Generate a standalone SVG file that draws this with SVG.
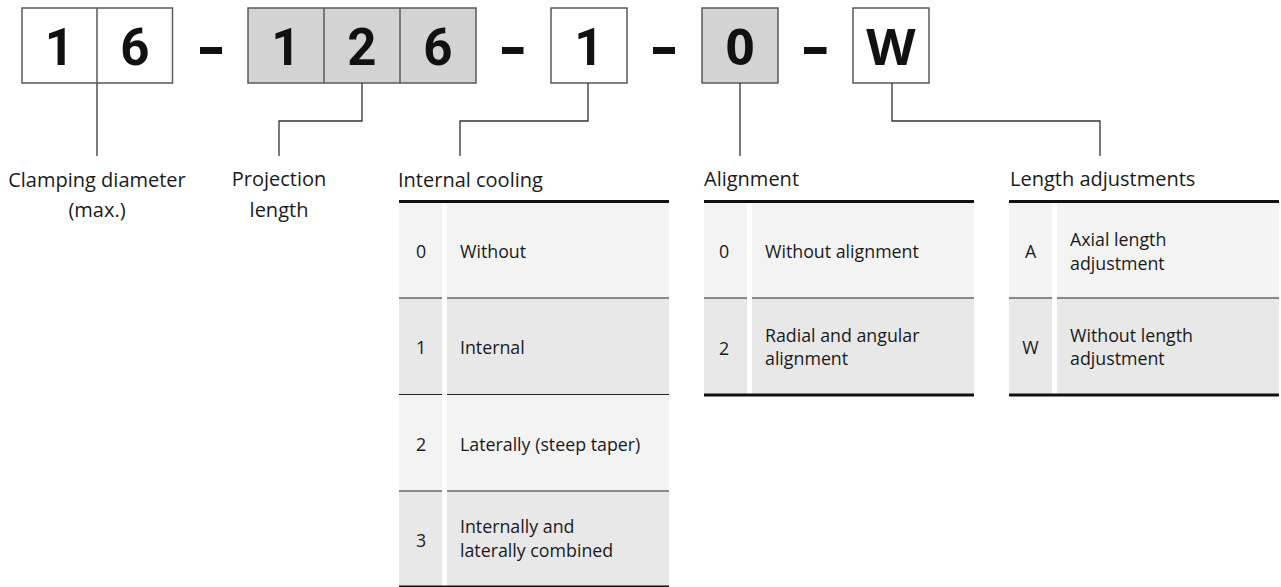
<svg xmlns="http://www.w3.org/2000/svg" width="1281" height="587" viewBox="0 0 1281 587">
<style>
.bw{fill:#fff;stroke:#5a5a5a;stroke-width:1.5}
.bg{fill:#d3d3d3;stroke:#5a5a5a;stroke-width:1.5}
.dv{stroke:#5a5a5a;stroke-width:1.5}
.dig{font-family:Roboto,"Liberation Sans",sans-serif;font-weight:700;font-size:51px;fill:#111;text-anchor:middle}
.dig2{font-family:"Open Sans","Noto Sans",sans-serif;font-weight:700;font-size:51px;fill:#111;text-anchor:middle}
.dash{fill:#111}
.con{fill:none;stroke:#333;stroke-width:1.3}
.lbl{font-family:"Open Sans","Noto Sans",sans-serif;font-size:20px;fill:#1a1a1a}
.mid{text-anchor:middle}
.t{font-family:"Open Sans","Noto Sans",sans-serif;font-size:17.8px;fill:#1a1a1a}
.r0{fill:#f3f3f3}
.r1{fill:#e8e8e8}
.thick{stroke:#111;stroke-width:3}
.thin{stroke:#222;stroke-width:1.2}
</style>

<g id="code-16">
<rect class="bw" x="22" y="8" width="150.5" height="75"/>
<line class="dv" x1="97" y1="8" x2="97" y2="83"/>
<text class="dig" x="59.5" y="65">1</text>
<text class="dig" x="135" y="65">6</text>
</g>
<rect class="dash" x="200" y="47" width="22" height="7"/>
<g id="code-126">
<rect class="bg" x="248" y="8" width="228" height="75"/>
<line class="dv" x1="324" y1="8" x2="324" y2="83"/>
<line class="dv" x1="400" y1="8" x2="400" y2="83"/>
<text class="dig" x="286" y="65">1</text>
<text class="dig" x="362" y="65">2</text>
<text class="dig" x="438" y="65">6</text>
</g>
<rect class="dash" x="502" y="47" width="21.5" height="7"/>
<g id="code-1">
<rect class="bw" x="551" y="8" width="76" height="75"/>
<text class="dig" x="589" y="65">1</text>
</g>
<rect class="dash" x="653" y="47" width="22" height="7"/>
<g id="code-0">
<rect class="bg" x="702" y="8" width="76" height="75"/>
<text class="dig2" x="740" y="65">0</text>
</g>
<rect class="dash" x="804" y="47" width="22.5" height="7"/>
<g id="code-W">
<rect class="bw" x="853" y="8" width="76" height="75"/>
<text class="dig2" x="891" y="65">W</text>
</g>

<g id="connectors">
<polyline class="con" points="97,83 97,156"/>
<polyline class="con" points="362,83 362,121 279,121 279,156"/>
<polyline class="con" points="588,83 588,121 460,121 460,156"/>
<polyline class="con" points="740,83 740,156"/>
<polyline class="con" points="892,83 892,121 1100,121 1100,156"/>
</g>

<g id="clamping-diameter">
<text class="lbl mid" x="97" y="186.5">Clamping diameter</text>
<text class="lbl mid" x="97" y="216.5">(max.)</text>
</g>
<g id="projection-length">
<text class="lbl mid" x="279" y="186">Projection</text>
<text class="lbl mid" x="279" y="216.5">length</text>
</g>

<g id="internal-cooling">
<text class="lbl" x="398" y="186.5">Internal cooling</text>
<rect class="r0" x="399" y="202" width="43" height="96"/>
<rect class="r0" x="447" y="202" width="222" height="96"/>
<rect class="r1" x="399" y="298" width="43" height="96"/>
<rect class="r1" x="447" y="298" width="222" height="96"/>
<rect class="r0" x="399" y="394" width="43" height="97"/>
<rect class="r0" x="447" y="394" width="222" height="97"/>
<rect class="r1" x="399" y="491" width="43" height="96"/>
<rect class="r1" x="447" y="491" width="222" height="96"/>
<line class="thin" x1="399" y1="298" x2="442" y2="298"/>
<line class="thin" x1="447" y1="298" x2="669" y2="298"/>
<line class="thin" x1="399" y1="394.5" x2="442" y2="394.5"/>
<line class="thin" x1="447" y1="394.5" x2="669" y2="394.5"/>
<line class="thin" x1="399" y1="491" x2="442" y2="491"/>
<line class="thin" x1="447" y1="491" x2="669" y2="491"/>
<line class="thick" x1="399" y1="201.5" x2="669" y2="201.5"/>
<line class="thick" x1="399" y1="587" x2="669" y2="587"/>
<text class="t mid" x="421" y="258">0</text>
<text class="t" x="460" y="258">Without</text>
<text class="t mid" x="421" y="354">1</text>
<text class="t" x="460" y="354">Internal</text>
<text class="t mid" x="421" y="450.5">2</text>
<text class="t" x="460" y="450.5">Laterally (steep taper)</text>
<text class="t mid" x="421" y="547">3</text>
<text class="t" x="460" y="533">Internally and</text>
<text class="t" x="460" y="556.5">laterally combined</text>
</g>

<g id="alignment">
<text class="lbl" x="704" y="185.5">Alignment</text>
<rect class="r0" x="704" y="202" width="43" height="96"/>
<rect class="r0" x="752" y="202" width="222" height="96"/>
<rect class="r1" x="704" y="298" width="43" height="97"/>
<rect class="r1" x="752" y="298" width="222" height="97"/>
<line class="thin" x1="704" y1="298" x2="747" y2="298"/>
<line class="thin" x1="752" y1="298" x2="974" y2="298"/>
<line class="thick" x1="704" y1="201.5" x2="974" y2="201.5"/>
<line class="thick" x1="704" y1="395" x2="974" y2="395"/>
<text class="t mid" x="724" y="258">0</text>
<text class="t" x="765" y="258">Without alignment</text>
<text class="t mid" x="724" y="355">2</text>
<text class="t" x="765" y="341.5">Radial and angular</text>
<text class="t" x="765" y="364.5">alignment</text>
</g>

<g id="length-adjustments">
<text class="lbl" x="1010" y="185.5">Length adjustments</text>
<rect class="r0" x="1009" y="202" width="43" height="96"/>
<rect class="r0" x="1057" y="202" width="222" height="96"/>
<rect class="r1" x="1009" y="298" width="43" height="97"/>
<rect class="r1" x="1057" y="298" width="222" height="97"/>
<line class="thin" x1="1009" y1="298" x2="1052" y2="298"/>
<line class="thin" x1="1057" y1="298" x2="1279" y2="298"/>
<line class="thick" x1="1009" y1="201.5" x2="1279" y2="201.5"/>
<line class="thick" x1="1009" y1="395" x2="1279" y2="395"/>
<text class="t mid" x="1030.5" y="257.5">A</text>
<text class="t" x="1070" y="246">Axial length</text>
<text class="t" x="1070" y="269.5">adjustment</text>
<text class="t mid" x="1030.5" y="354">W</text>
<text class="t" x="1070" y="342">Without length</text>
<text class="t" x="1070" y="365">adjustment</text>
</g>
</svg>
